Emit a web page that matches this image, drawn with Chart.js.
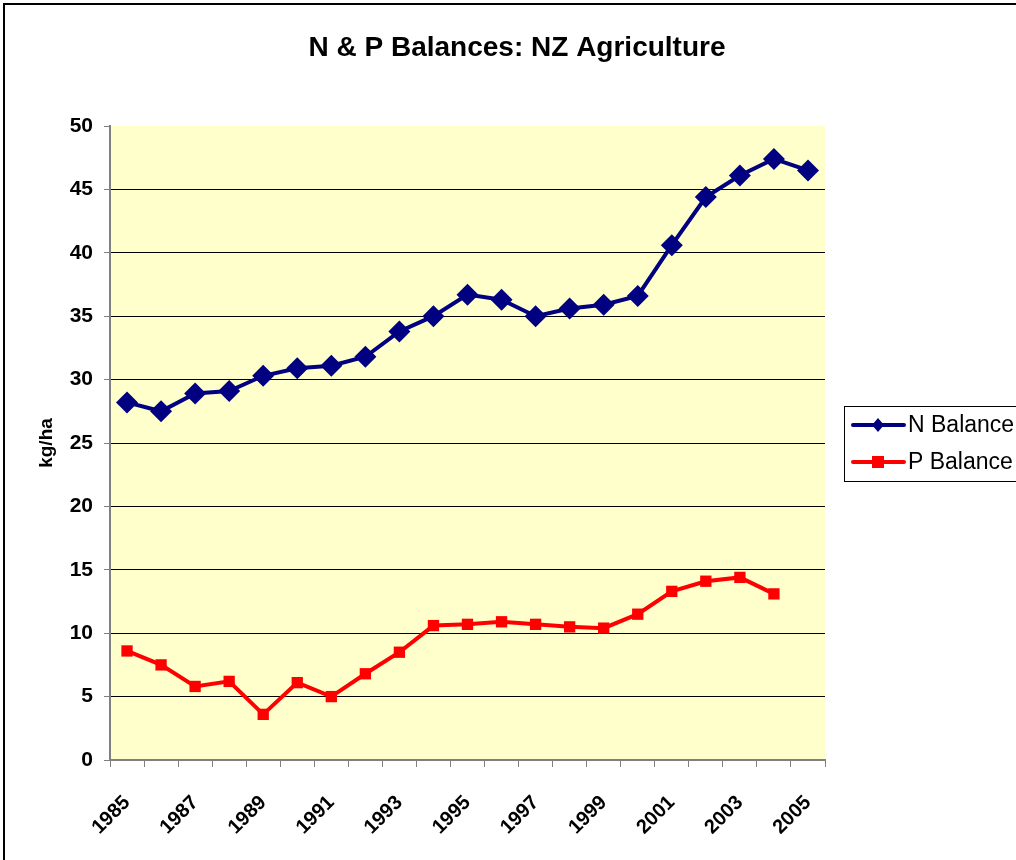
<!DOCTYPE html>
<html>
<head>
<meta charset="utf-8">
<script src="https://cdn.jsdelivr.net/npm/chart.js@4/dist/chart.umd.min.js"></script>
<style>
  body { margin: 0; background: #fff; }
  #wrap { width: 1016px; height: 860px; }
</style>
</head>
<body>
<div id="wrap"><canvas id="myChart" width="1016" height="860"></canvas></div>
<script>
var years = ["1985", "1986", "1987", "1988", "1989", "1990", "1991", "1992", "1993", "1994",
  "1995", "1996", "1997", "1998", "1999", "2000", "2001", "2002", "2003", "2004", "2005"];
var nBalance = [28.2, 27.5, 28.9, 29.1, 30.3, 30.9, 31.1, 31.8, 33.8, 35.0,
  36.7, 36.3, 35.0, 35.6, 35.9, 36.6, 40.6, 44.4, 46.1, 47.4, 46.5];
var pBalance = [8.6, 7.5, 5.8, 6.2, 3.6, 6.1, 5.0, 6.8, 8.5, 10.6,
  10.7, 10.9, 10.7, 10.5, 10.4, 11.5, 13.3, 14.1, 14.4, 13.1, null];
var yTicks = [0, 5, 10, 15, 20, 25, 30, 35, 40, 45, 50];

var FONT = "Arial, 'Liberation Sans', sans-serif";

// yellow plot area + outer frame
var background = {
  id: "background",
  beforeDraw: function (chart) {
    var c = chart.ctx, a = chart.chartArea;
    c.save();
    c.fillStyle = "#FFFFCC";
    c.fillRect(a.left, a.top, a.right - a.left, a.bottom - a.top);
    c.restore();
  },
  afterDraw: function (chart) {
    var c = chart.ctx;
    c.save();
    c.strokeStyle = "#000";
    c.lineWidth = 2;
    c.strokeRect(4, 4, 1100, 1000);
    c.restore();
  }
};

// legend with line + marker like the original
var sideLegend = {
  id: "sideLegend",
  afterDraw: function (chart) {
    var c = chart.ctx;
    c.save();
    c.strokeStyle = "#000";
    c.lineWidth = 1;
    c.strokeRect(844.5, 406.5, 200, 75);
    c.font = "23px " + FONT;
    c.textBaseline = "middle";
    c.textAlign = "left";
    chart.data.datasets.forEach(function (ds, i) {
      var y = 425 + i * 37;
      c.strokeStyle = ds.borderColor;
      c.lineWidth = 4;
      c.lineCap = "round";
      c.beginPath();
      c.moveTo(853, y);
      c.lineTo(904, y);
      c.stroke();
      c.fillStyle = ds.borderColor;
      c.beginPath();
      if (ds.pointStyle === "rectRot") {
        c.moveTo(878, y - 7);
        c.lineTo(884, y);
        c.lineTo(878, y + 7);
        c.lineTo(872, y);
        c.closePath();
      } else {
        c.rect(872, y - 6, 12, 12);
      }
      c.fill();
      c.fillStyle = "#000";
      c.fillText(ds.label, 908, y + 1);
    });
    c.restore();
  }
};

var ctx = document.getElementById("myChart").getContext("2d");
var myChart = new Chart(ctx, {
  type: "line",
  data: {
    labels: years,
    datasets: [
      {
        label: "N Balance",
        data: nBalance,
        borderColor: "#000080",
        backgroundColor: "#000080",
        borderWidth: 4,
        pointStyle: "rectRot",
        pointRadius: 11,
        pointBorderWidth: 0,
        tension: 0
      },
      {
        label: "P Balance",
        data: pBalance,
        borderColor: "#FF0000",
        backgroundColor: "#FF0000",
        borderWidth: 4,
        pointStyle: "rect",
        pointRadius: 8,
        pointBorderWidth: 0,
        tension: 0
      }
    ]
  },
  options: {
    responsive: false,
    animation: false,
    layout: { padding: { left: 18, right: 0, top: 0, bottom: 0 } },
    plugins: {
      legend: { display: false },
      tooltip: { enabled: false },
      title: {
        display: true,
        text: "N & P Balances: NZ Agriculture",
        color: "#000",
        font: { family: FONT, size: 28, weight: "bold" },
        padding: { top: 31, bottom: 61.4 }
      }
    },
    scales: {
      x: {
        offset: true,
        afterFit: function (s) { s.height = 100; },
        border: { color: "#808080", width: 2 },
        grid: {
          offset: true,
          drawOnChartArea: false,
          drawTicks: true,
          tickLength: 7,
          tickColor: "#808080"
        },
        ticks: {
          autoSkip: false,
          minRotation: 45,
          maxRotation: 45,
          padding: 24,
          color: "#000",
          font: { family: FONT, size: 20, weight: "bold" },
          callback: function (v, i) { return i % 2 === 0 ? years[i] : ""; }
        }
      },
      y: {
        min: 0,
        max: 50,
        afterFit: function (s) { s.width = 92; },
        afterBuildTicks: function (s) {
          s.ticks = yTicks.map(function (v) { return { value: v }; });
        },
        border: { color: "#808080", width: 2 },
        grid: {
          color: function (c) { return c.tick && c.tick.value === 50 ? "rgba(0,0,0,0)" : "#000"; },
          lineWidth: 1,
          tickLength: 6,
          tickColor: "#808080"
        },
        ticks: {
          padding: 11,
          color: "#000",
          font: { family: FONT, size: 21, weight: "bold" }
        },
        title: {
          display: true,
          text: "kg/ha",
          color: "#000",
          font: { family: FONT, size: 19, weight: "bold" },
          padding: { top: 17, bottom: 0 }
        }
      },
      // empty right-hand box that holds the space used by the legend
      yRight: {
        type: "linear",
        position: "right",
        afterFit: function (s) { s.width = 191; },
        grid: { display: false },
        border: { display: false },
        ticks: { display: false }
      }
    }
  },
  plugins: [background, sideLegend]
});
</script>
</body>
</html>
